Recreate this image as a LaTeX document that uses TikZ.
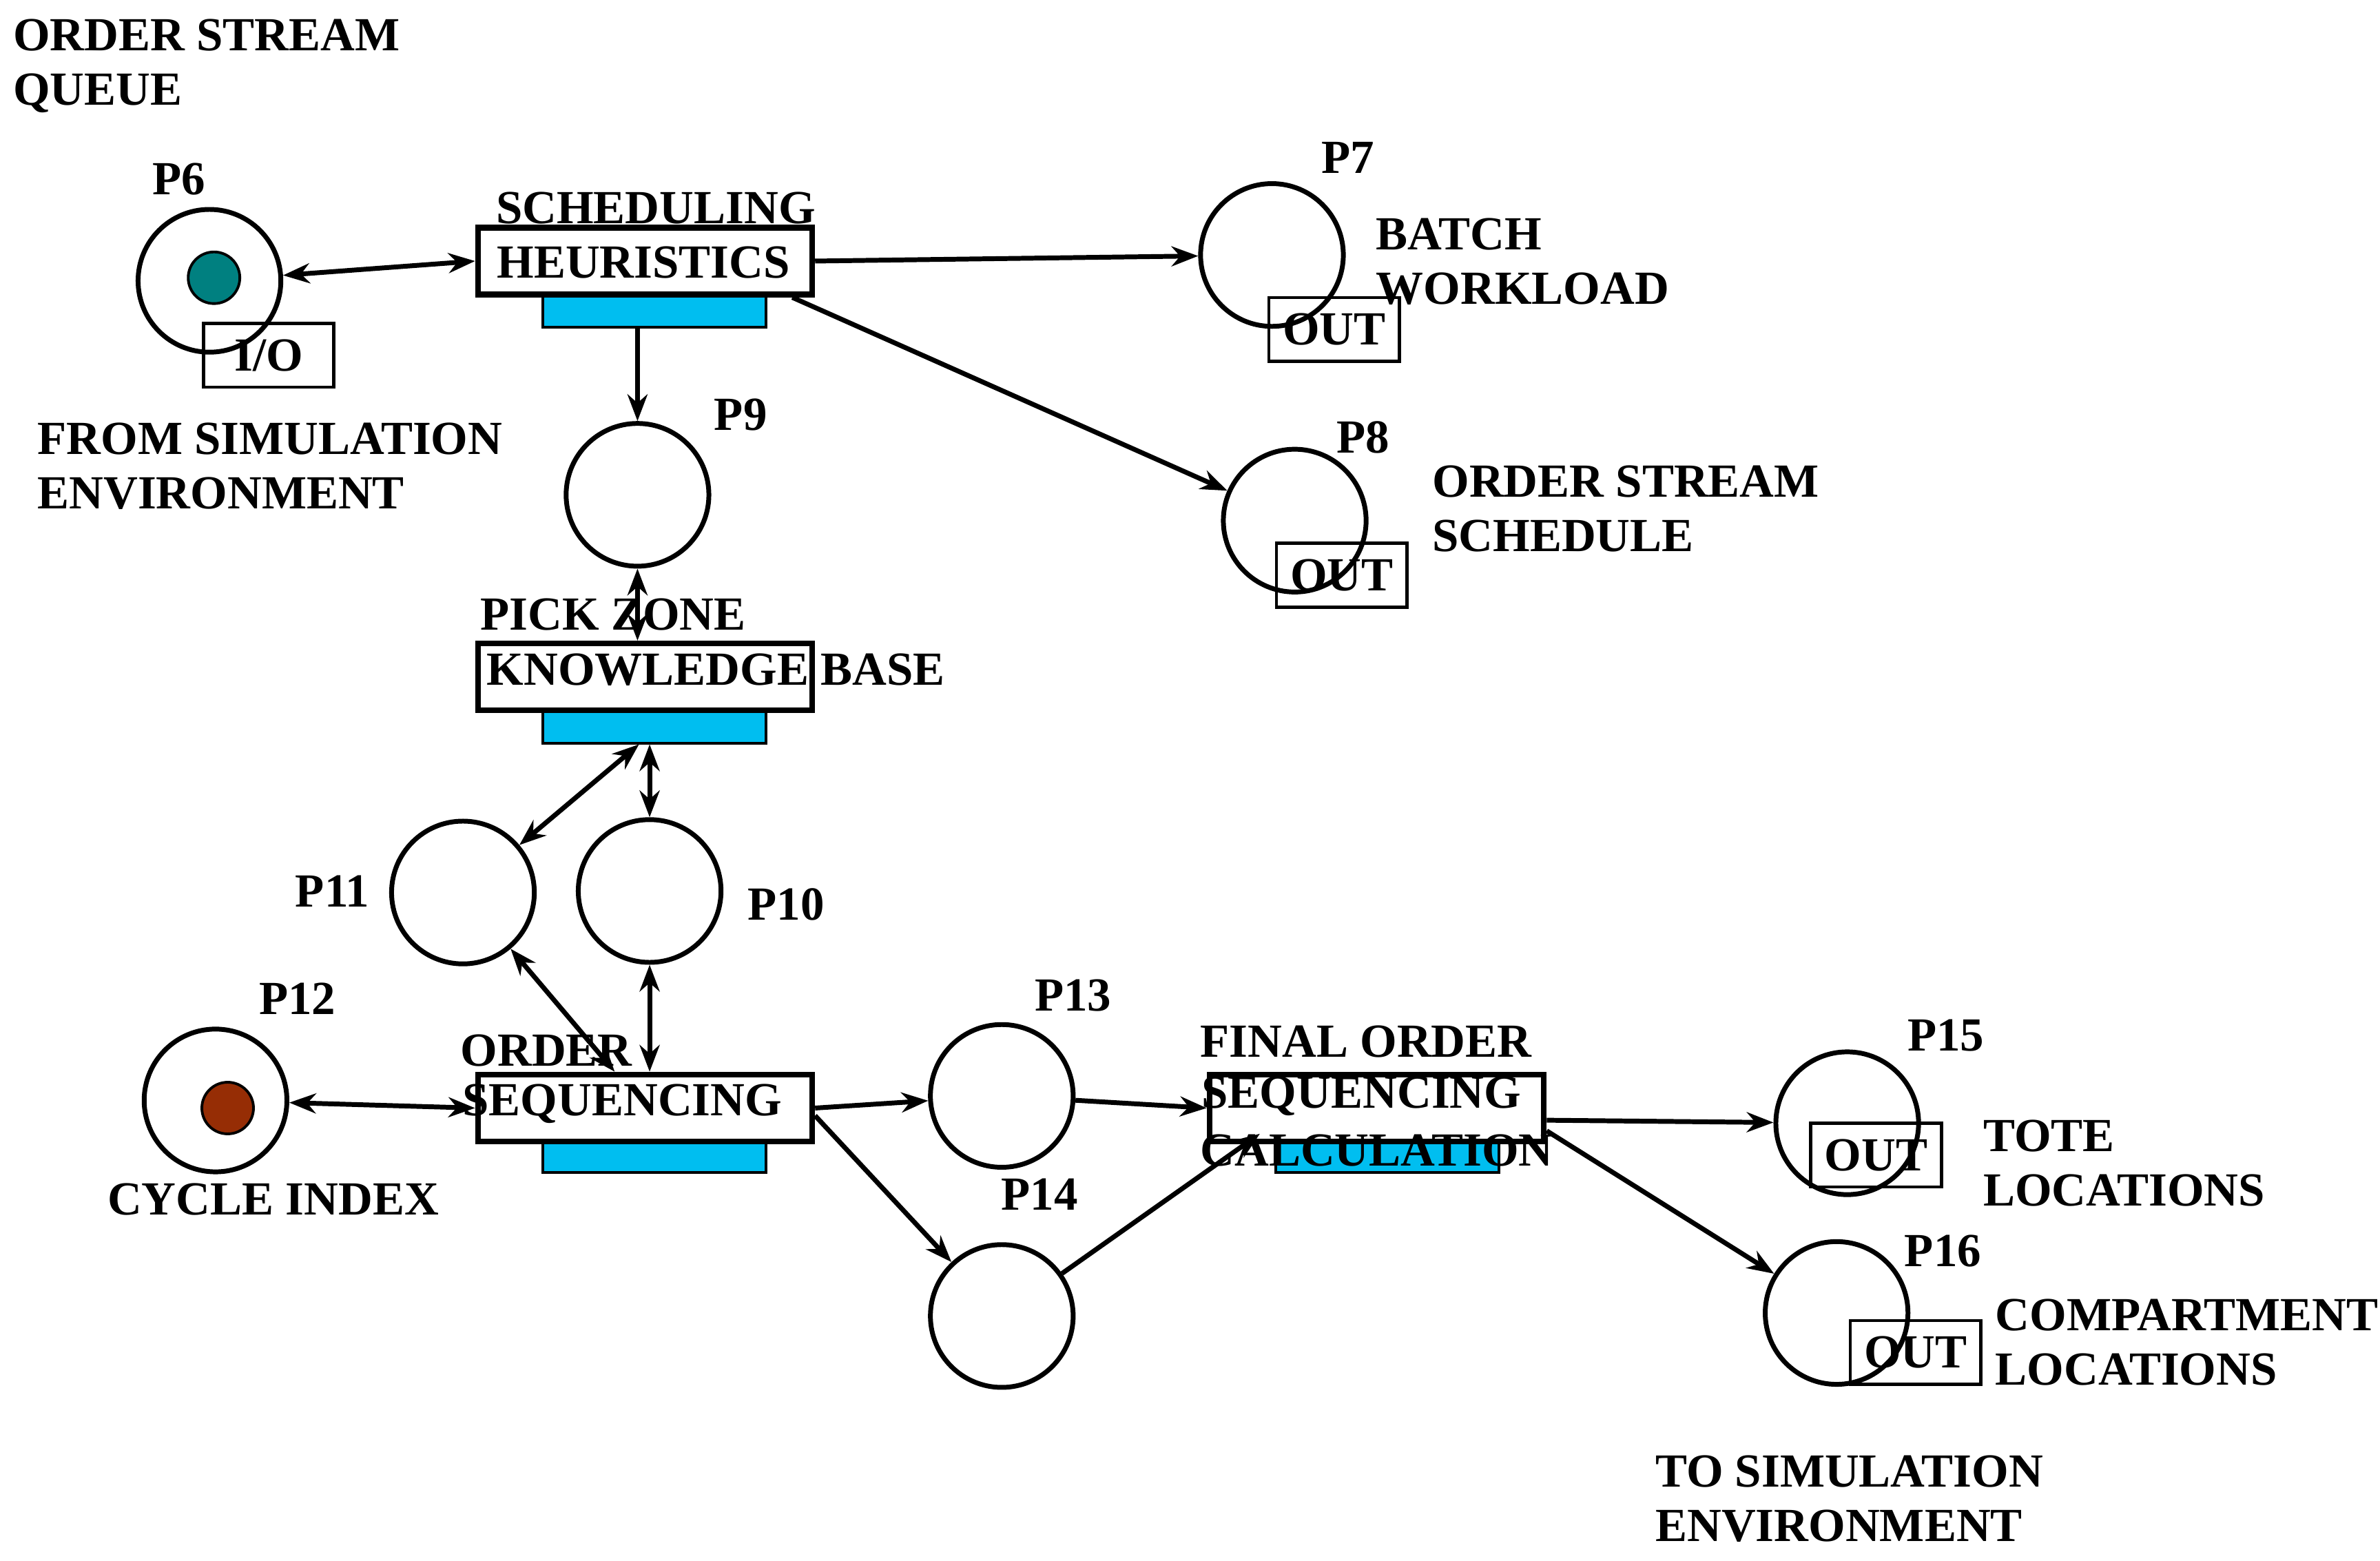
\documentclass[tikz,border=0pt]{standalone}
\usepackage{fontspec}
\setmainfont{Liberation Serif}
\usetikzlibrary{arrows.meta}
\definecolor{barblue}{RGB}{0,190,240}
\definecolor{tokteal}{RGB}{0,128,128}
\definecolor{tokbrown}{RGB}{150,45,5}
\tikzset{
  place/.style={circle, draw=black, line width=0.9pt, minimum size=0.94cm, inner sep=0pt},
  token/.style={circle, draw=black, line width=0.5pt, minimum size=0.34cm, inner sep=0pt},
  trans/.style={rectangle, draw=black, line width=1.1pt, minimum width=2.2cm, minimum height=0.44cm, inner sep=0pt},
  bar/.style={rectangle, draw=black, line width=0.5pt, fill=barblue, minimum width=1.47cm, minimum height=0.21cm, inner sep=0pt},
  tag/.style={rectangle, draw=black, line width=0.6pt, minimum width=0.86cm, minimum height=0.42cm, inner sep=0pt},
  lbl/.style={font=\fontsize{8.9}{10.2}\selectfont\bfseries, inner sep=0pt, align=left},
  arrow/.style={line width=0.9pt, -{Stealth[length=5pt]}},
  darrow/.style={line width=0.9pt, {Stealth[length=5pt]}-{Stealth[length=5pt]}}
}
\begin{document}
\begin{tikzpicture}[x=0.01cm, y=-0.01cm]
\useasboundingbox (0,0) rectangle (1568,1028);

%Places==============================================
\node (p6) [place] at (138,185) {};
\node (tok6) [token, fill=tokteal] at (141,183) {};
\node (p7) [place] at (838,168) {};
\node (p8) [place] at (853,343) {};
\node (p9) [place] at (420,326) {};
\node (p10) [place] at (428,587) {};
\node (p11) [place] at (305,588) {};
\node (p12) [place] at (142,725) {};
\node (tok12) [token, fill=tokbrown] at (150,730) {};
\node (p13) [place] at (660,722) {};
\node (p14) [place] at (660,867) {};
\node (p15) [place] at (1217,740) {};
\node (p16) [place] at (1210,865) {};

%Transitions==============================================
\node (schbar) [bar] at (431,205) {};
\node (sched) [trans] at (425,172) {};
\node (pkbar) [bar] at (431,479) {};
\node (pick) [trans] at (425,446) {};
\node (osbar) [bar] at (431,762) {};
\node (oseq) [trans] at (425,730) {};
\node (fnbar) [bar] at (914,762) {};
\node (final) [trans] at (907,730) {};

%Tags==============================================
\node (io6) [tag] at (177,234) {};
\node (out7) [tag] at (879,217) {};
\node (out8) [tag] at (884,379) {};
\node (out15) [tag] at (1236,761) {};
\node (out16) [tag] at (1262,891) {};
\node[lbl] at (io6) {I/O};
\node[lbl] at (out7) {OUT};
\node[lbl] at (out8) {OUT};
\node[lbl] at (out15) {OUT};
\node[lbl] at (out16) {OUT};

%Labels==============================================
\node[lbl, anchor=north west] at (8,12) {ORDER STREAM\\QUEUE};
\node[lbl, anchor=north west] at (24,278) {FROM SIMULATION\\ENVIRONMENT};
\node[lbl, anchor=north west] at (906,143) {BATCH\\WORKLOAD};
\node[lbl, anchor=north west] at (943,306) {ORDER STREAM\\SCHEDULE};
\node[lbl, anchor=north west] at (1306,737) {TOTE\\LOCATIONS};
\node[lbl, anchor=north west] at (1314,855) {COMPARTMENT\\LOCATIONS};
\node[lbl, anchor=north west] at (1090,958) {TO SIMULATION\\ENVIRONMENT};
\node[lbl] at (180,790) {CYCLE INDEX};
\node[lbl] at (118,118) {P6};
\node[lbl] at (888,104) {P7};
\node[lbl] at (898,288) {P8};
\node[lbl] at (488,273) {P9};
\node[lbl] at (518,596) {P10};
\node[lbl] at (219,587) {P11};
\node[lbl] at (196,658) {P12};
\node[lbl] at (707,656) {P13};
\node[lbl] at (685,787) {P14};
\node[lbl] at (1282,682) {P15};
\node[lbl] at (1280,824) {P16};
\node[lbl] at (432,137) {SCHEDULING};
\node[lbl] at (424,173) {HEURISTICS};
\node[lbl] at (404,405) {PICK ZONE};
\node[lbl, anchor=west] at (320,441) {KNOWLEDGE BASE};
\node[lbl] at (360,692) {ORDER};
\node[lbl] at (410,727) {SEQUENCING};
\node[lbl] at (900,686) {FINAL ORDER};
\node[lbl] at (897,722) {SEQUENCING};
\node[lbl] at (907,758) {CALCULATION};

%Arcs==============================================
\draw [darrow] (p6) -- (sched.west);
\draw [arrow] (sched.east) -- (p7);
\draw [arrow] ([xshift=-0.15cm]sched.south east) -- (p8);
\draw [arrow] (schbar.south -| p9) -- (p9);
\draw [darrow] (p9) -- (pick.north -| p9);
\draw [darrow] ([xshift=-0.1cm]pkbar.south) -- (p11);
\draw [darrow] (pkbar.south -| p10) -- (p10);
\draw [darrow] (p11) -- ([xshift=-0.2cm]oseq.north);
\draw [darrow] (p10) -- (oseq.north -| p10);
\draw [darrow] (p12) -- (oseq.west);
\draw [arrow] (oseq.east) -- (p13);
\draw [arrow] ([yshift=-0.05cm]oseq.east) -- (p14);
\draw [arrow] (p13) -- (final.west);
\draw [arrow] (p14) -- ([xshift=0.35cm,yshift=0.07cm]final.south west);
\draw [arrow] ([yshift=-0.08cm]final.east) -- (p15);
\draw [arrow] ([yshift=-0.15cm]final.east) -- (p16);
\end{tikzpicture}
\end{document}
